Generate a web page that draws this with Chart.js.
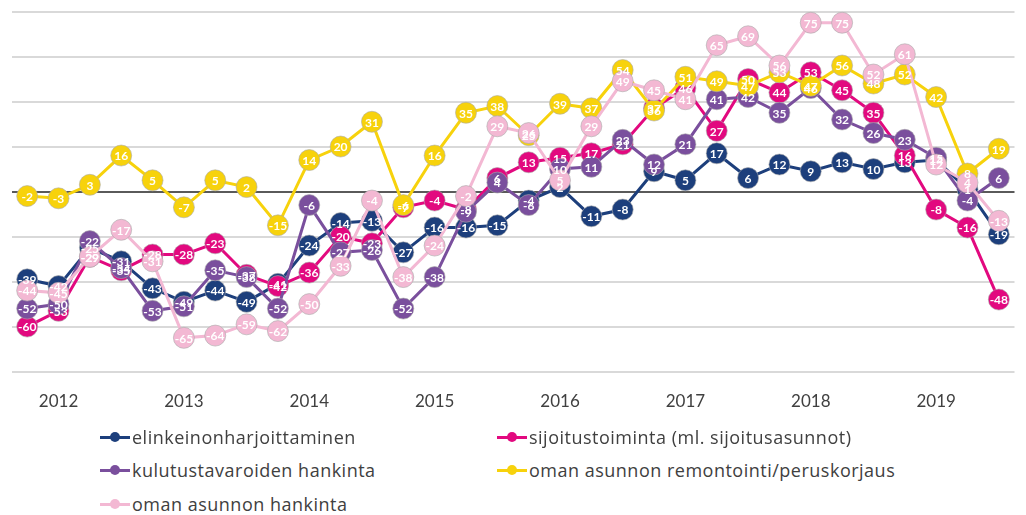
<!DOCTYPE html>
<html>
<head>
<meta charset="utf-8">
<script src="https://cdn.jsdelivr.net/npm/chart.js@4/dist/chart.umd.min.js"></script>
<style>
  body { margin: 0; background: #fff; }
  #wrap { position: relative; width: 1026px; height: 515px; overflow: hidden; }
  #chartBox { position: absolute; left: 0; top: 0; width: 1026px; height: 432px; }
  .leg { position: absolute; font-family: "Open Sans", sans-serif; font-size: 18px; letter-spacing: 0.5px; color: #404040; white-space: nowrap; line-height: 20px; }
  .mk { display: inline-block; position: relative; width: 30px; height: 20px; vertical-align: top; margin-right: 2px; }
  .mk .ln { position: absolute; left: 0; right: 0; top: 9px; height: 3px; }
  .mk .dt { position: absolute; left: 10px; top: 5px; width: 10px; height: 10px; border-radius: 50%; }
</style>
</head>
<body>
<div id="wrap">
  <div id="chartBox"><canvas id="myChart"></canvas></div>
  <div id="legend"></div>
</div>
<script>
// quarters 2012 Q1 .. 2019 Q4, year shown under the 2nd quarter
var labels = ['', '2012', '', '', '', '2013', '', '', '', '2014', '', '', '', '2015', '', '',
              '', '2016', '', '', '', '2017', '', '', '', '2018', '', '', '', '2019', '', ''];

var elinkeino = [-39, -42, -25, -31, -43, -49, -44, -49, -41, -24, -14, -13, -27, -16, -16, -15,
                 -4, 2, -11, -8, 9, 5, 17, 6, 12, 9, 13, 10, 13, 14, 1, -19];
var sijoitus = [-60, -53, -29, -35, -28, -28, -23, -37, -42, -36, -20, -23, -7, -4, -8, 6,
                13, 15, 17, 21, 37, 46, 27, 50, 44, 53, 45, 35, 16, -8, -16, -48];
var kulutus = [-52, -50, -22, -34, -53, -51, -35, -38, -52, -6, -27, -26, -52, -38, -9, 4,
               -6, 10, 11, 23, 12, 21, 41, 42, 35, 46, 32, 26, 23, 15, -4, 6];
var remontti = [-2, -3, 3, 16, 5, -7, 5, 2, -15, 14, 20, 31, -6, 16, 35, 38,
                25, 39, 37, 54, 36, 51, 49, 47, 53, 47, 56, 48, 52, 42, 8, 19];
var asunto = [-44, -45, -29, -17, -31, -65, -64, -59, -62, -50, -33, -4, -38, -24, -2, 29,
              26, 5, 29, 49, 45, 41, 65, 69, 56, 75, 75, 52, 61, 12, 4, -13];

var seriesNames = [
  'elinkeinonharjoittaminen',
  'sijoitustoiminta (ml. sijoitusasunnot)',
  'kulutustavaroiden hankinta',
  'oman asunnon remontointi/peruskorjaus',
  'oman asunnon hankinta'
];
var seriesColors = ['#1d3f7c', '#e2097f', '#7a4f9d', '#f7d20c', '#f3b8d3'];
var seriesData = [elinkeino, sijoitus, kulutus, remontti, asunto];

// later series sit on top (like excel)
var datasets = seriesData.map(function(d, i) {
  return {
    label: seriesNames[i],
    data: d,
    borderColor: seriesColors[i],
    backgroundColor: seriesColors[i],
    borderWidth: 3,
    pointRadius: 10.5,
    pointBackgroundColor: seriesColors[i],
    pointBorderColor: 'rgba(170,170,170,0.6)',
    pointBorderWidth: 1,
    order: seriesData.length - i,
    tension: 0
  };
});

// white value labels inside the markers
var valueLabels = {
  id: 'valueLabels',
  afterDatasetsDraw: function(chart) {
    var ctx = chart.ctx;
    ctx.save();
    ctx.font = 'bold 12px Lato, sans-serif';
    ctx.fillStyle = '#ffffff';
    ctx.textAlign = 'center';
    ctx.textBaseline = 'middle';
    chart.data.datasets.forEach(function(ds, i) {
      var meta = chart.getDatasetMeta(i);
      meta.data.forEach(function(pt, j) {
        ctx.fillText(String(ds.data[j]), pt.x, pt.y + 1);
      });
    });
    ctx.restore();
  }
};

var ctx = document.getElementById('myChart').getContext('2d');
var myChart = new Chart(ctx, {
  type: 'line',
  data: { labels: labels, datasets: datasets },
  plugins: [valueLabels],
  options: {
    responsive: true,
    maintainAspectRatio: false,
    animation: false,
    layout: { padding: { left: 11, right: 0, top: 11, bottom: 0 } },
    plugins: {
      legend: { display: false },
      tooltip: { enabled: false }
    },
    scales: {
      x: {
        offset: true,
        grid: { display: false, drawTicks: false },
        border: { display: false },
        ticks: {
          autoSkip: false,
          maxRotation: 0,
          padding: 20,
          color: '#404040',
          font: { family: 'Lato', size: 17 }
        }
      },
      y: {
        min: -80,
        max: 80,
        grid: {
          drawTicks: false,
          lineWidth: 2,
          color: function(c) {
            return c.tick && c.tick.value === 0 ? '#5a5a5a' : '#d9d9d9';
          }
        },
        border: { display: false },
        ticks: { stepSize: 20, display: false }
      }
    }
  }
});

// legend, two columns like the original
var legendPos = [[100, 427], [497, 427], [100, 460], [497, 460], [100, 494]];
var legendHtml = '';
seriesNames.forEach(function(name, i) {
  legendHtml += '<div class="leg" style="left:' + legendPos[i][0] + 'px;top:' + legendPos[i][1] + 'px">' +
    '<span class="mk"><span class="ln" style="background:' + seriesColors[i] + '"></span>' +
    '<span class="dt" style="background:' + seriesColors[i] + '"></span></span>' + name + '</div>';
});
document.getElementById('legend').innerHTML = legendHtml;
</script>
</body>
</html>
